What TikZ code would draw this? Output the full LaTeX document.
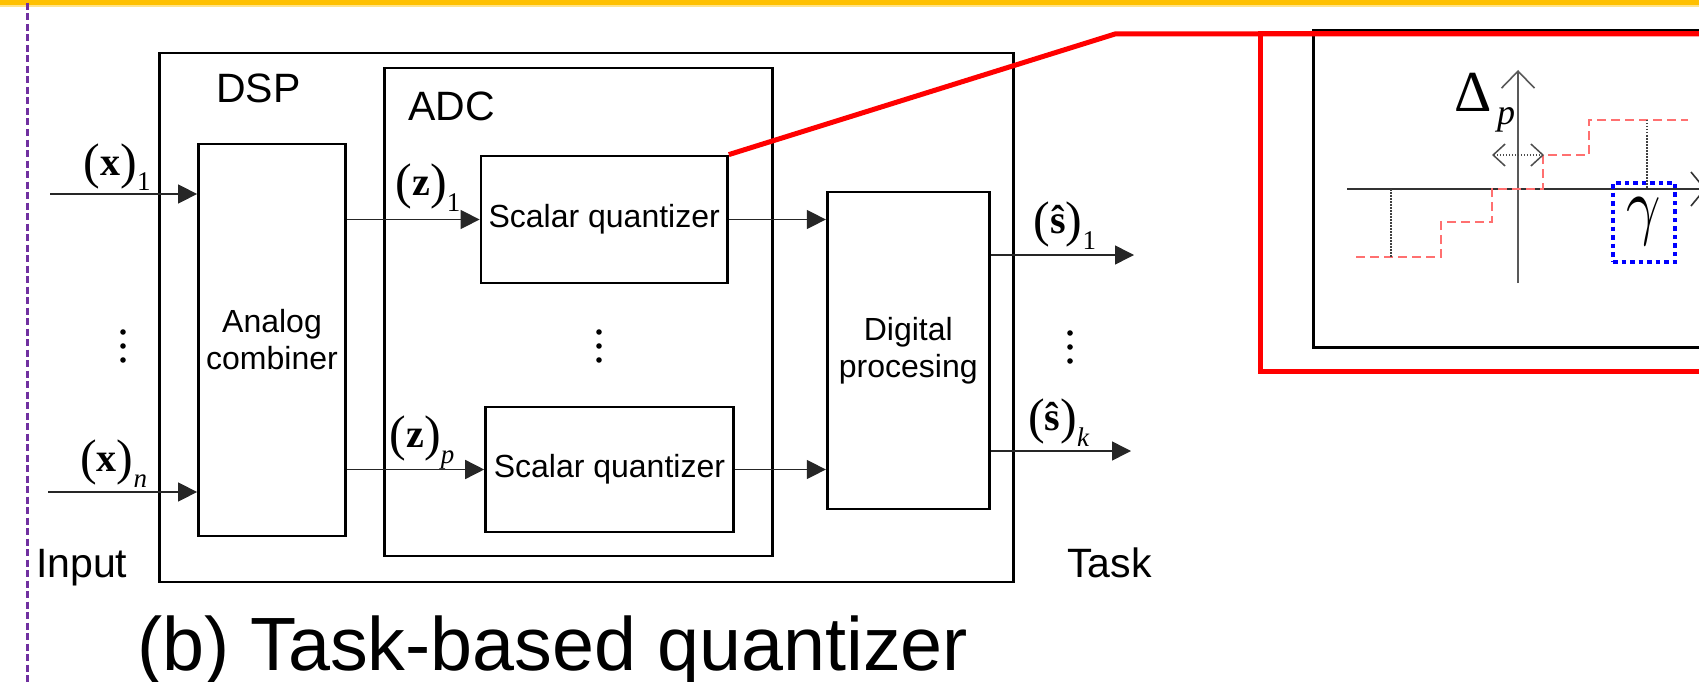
\documentclass[tikz,border=0pt]{standalone}
\usepackage[no-math]{fontspec}
\setmainfont{Liberation Sans}
\newfontfamily\lserif{Liberation Serif}
\usetikzlibrary{arrows.meta}
\definecolor{barorange}{HTML}{FFC000}
\definecolor{barlight}{HTML}{FFE38A}
\definecolor{rulepurple}{HTML}{7030A0}
\definecolor{stairred}{HTML}{FF7070}
\definecolor{gammablue}{HTML}{0000FF}

% signal label: (bold symbol)_index in a Times-like face
\newcommand\sigvec[2]{{\lserif\raisebox{-3pt}{\fontsize{50}{50}\selectfont(}{\fontsize{40}{40}\selectfont\bfseries #1}\raisebox{-3pt}{\fontsize{50}{50}\selectfont)}\raisebox{-16pt}{\fontsize{27}{27}\selectfont #2}}}

\begin{document}
\begin{tikzpicture}[x=1pt,y=-1pt,
  blk/.style={draw=black, line width=2.8pt, inner sep=0pt, align=center,
              font=\fontsize{32}{37}\selectfont},
  sig/.style={line width=1.5pt, draw=black!85,
              -{Triangle[length=19pt,width=19pt]}},
  lbl/.style={inner sep=0pt, anchor=base west, font=\fontsize{41}{44}\selectfont},
  vlbl/.style={inner sep=0pt, anchor=base west},
  ddot/.style={fill=black},
  redline/.style={draw=red, line width=5pt},
  axisline/.style={line width=1.6pt},
  stair/.style={draw=stairred, line width=2pt, dash pattern=on 9pt off 5pt},
  guide/.style={draw=black!75, line width=1.1pt, dash pattern=on 1.5pt off 1.5pt}]

\useasboundingbox (0,0) rectangle (1699,682);
\clip (0,0) rectangle (1699,682);

% header band and side rule
\fill[barorange] (0,0) rectangle (1699,5);
\fill[barlight] (0,5) rectangle (1699,7);
\draw[rulepurple, line width=3pt, dash pattern=on 7pt off 3.5pt] (27,3) -- (27,684);

% enclosing blocks
\node[blk, minimum width=853.7pt, minimum height=529pt] (dsp) at (586.5,317.5) {};
\node[blk, minimum width=387.6pt, minimum height=488pt] (adc) at (578.4,312) {};
\node[lbl] (dsplbl) at (216,103) {DSP};
\node[lbl] (adclbl) at (408,121) {ADC};

% processing blocks
\node[blk, minimum width=147pt, minimum height=392pt] (comb) at (272,340) {Analog\\combiner};
\node[blk, minimum width=246.4pt, minimum height=127pt] (sq1) at (604.2,219.5) {Scalar quantizer};
\node[blk, minimum width=247.6pt, minimum height=125pt] (sq2) at (609.4,469.5) {Scalar quantizer};
\node[blk, minimum width=162pt, minimum height=317pt] (dp) at (908.25,350.5) {Digital\\procesing};

% signal paths
\coordinate (in1) at (50,194);
\coordinate (inn) at (48,492);
\coordinate (out1) at (1134,255);
\coordinate (outk) at (1131,451);
\draw[sig] (in1) -- (in1 -| comb.west);
\draw[sig] (inn) -- (inn -| comb.west);
\draw[sig] (comb.east |- sq1.west) -- (sq1.west);
\draw[sig] (comb.east |- sq2.west) -- (sq2.west);
\draw[sig] (sq1.east) -- (sq1.east -| dp.west);
\draw[sig] (sq2.east) -- (sq2.east -| dp.west);
\draw[sig] (dp.east |- out1) -- (out1);
\draw[sig] (dp.east |- outk) -- (outk);

% signal labels
\node[vlbl] (lx1) at (83.5,175) {\sigvec{x}{1}};
\node[vlbl] (lxn) at (80,471) {\sigvec{x}{\itshape n}};
\node[vlbl] (lz1) at (395.5,195) {\sigvec{z}{1}};
\node[vlbl] (lzp) at (389.5,447) {\sigvec{z}{\itshape p}};
\node[vlbl] (ls1) at (1033.5,233) {\sigvec{ŝ}{1}};
\node[vlbl] (lsk) at (1028,430) {\sigvec{ŝ}{\itshape k}};

% vertical ellipses
\foreach \x/\y in {123/332, 599/332, 1070/333}
  \foreach \d in {0,14,28}
    \fill[ddot] (\x,\y+\d) circle (2.8pt);

% side captions and title
\node[lbl] (inlbl) at (36,577) {Input};
\node[lbl] (tasklbl) at (1067,577) {Task};
\node[inner sep=0pt, anchor=base west, font=\fontsize{75.5}{76}\selectfont] (title) at (137,670) {(b) Task-based quantizer};

% magnified quantizer characteristic
\draw[line width=3pt] (1740,31) -- (1313,31) -- (1313,347) -- (1740,347);
\draw[black!80, axisline, -{Straight Barb[length=14pt,width=34pt]}] (1347,189) -- (1706,189);
\draw[black!65, axisline, -{Straight Barb[length=17pt,width=33pt]}] (1518,283) -- (1518,70);
\draw[stair] (1356,257) -- (1441,257) -- (1441,222) -- (1492,222) -- (1492,189)
  -- (1543,189) -- (1543,155) -- (1589,155) -- (1589,120) -- (1688,120);
\draw[guide] (1391,189) -- (1391,257);
\draw[guide] (1647,120) -- (1647,189);
\draw[guide, black!70, {Straight Barb[length=12pt,width=22pt,line width=1.5pt]}-{Straight Barb[length=12pt,width=22pt,line width=1.5pt]}]
  (1492,155) -- (1544,155);
\node[inner sep=0pt, font=\lserif\fontsize{58}{58}\selectfont] (delta) at (1473,92) {Δ};
\node[inner sep=0pt, font=\lserif\itshape\fontsize{36}{36}\selectfont] (deltap) at (1506,120) {p};
\node[draw=gammablue, line width=4pt, dash pattern=on 4.5pt off 4pt,
      minimum width=62pt, minimum height=79pt, inner sep=0pt] (gbox) at (1644,222.5) {};
\node[inner sep=0pt, xscale=6, yscale=7.6, font=\fontsize{10}{12}\selectfont] (gamma) at (1644,222) {$\gamma$};

% zoom callout
\coordinate (bend) at (1115,34);
\draw[redline, line join=miter] (sq1.north east) -- (bend) -- (1740,34);
\draw[redline] (1740,34) -- (1260,34) -- (1260,371) -- (1740,371);
\end{tikzpicture}
\end{document}
